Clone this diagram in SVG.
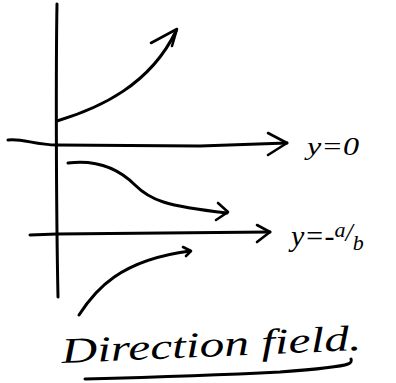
<svg xmlns="http://www.w3.org/2000/svg" width="396" height="383" viewBox="0 0 396 383">
<style>
.ln{fill:none;stroke:#000;stroke-width:3;stroke-linecap:round;stroke-linejoin:round}
.ah{fill:none;stroke:#000;stroke-width:2.6;stroke-linecap:round;stroke-linejoin:round}
.hw{font-family:"Liberation Serif",serif;font-style:italic;fill:#000}
</style>
<rect width="396" height="383" fill="#fff"/>
<g id="connectors">
<path id="axis-v" class="ln" d="M57,4 C56,60 56,200 58,297"/>
<path id="axis-y0" class="ln" d="M8,140 C22,138 35,145 57,145 L200,146 L287,143"/>
<polyline class="ah" points="268,133 287,143 268,155"/>
<path id="axis-yab" class="ln" d="M30,235 L57,234 L270,232"/>
<polyline class="ah" points="257,225 270,232 257,242"/>
<path id="curve-up" class="ln" d="M57,121 C100,108 150,85 176,31"/>
<polyline class="ah" points="151,43 177,29 172,46"/>
<path id="curve-mid" class="ln" d="M68,163 C100,159 120,170 135,185 C150,200 165,206 227,213"/>
<polyline class="ah" points="218,203 228,212 216,220"/>
<path id="curve-low" class="ln" d="M79,315 C95,290 120,260 190,251"/>
<polyline class="ah" points="183,247 191,251 186,256"/>
<path id="underline" class="ln" d="M85,379 C160,377 220,375 280,372 C320,369 340,367 348,364 C351,363 352,361 351,359"/>
</g>
<g id="label-y0">
<text class="hw" x="307" y="155" font-size="26" textLength="52" lengthAdjust="spacingAndGlyphs">y=0</text>
</g>
<g id="label-yab">
<text class="hw" x="291" y="246" font-size="30">y=-<tspan dy="-9" font-size="22">a</tspan><tspan dy="4" font-size="26">/</tspan><tspan dy="9" font-size="22">b</tspan></text>
</g>
<g id="title">
<text class="hw" x="62" y="363" font-size="36" textLength="300" lengthAdjust="spacingAndGlyphs" transform="rotate(-2.5 62 363)">Direction field.</text>
</g>
</svg>
